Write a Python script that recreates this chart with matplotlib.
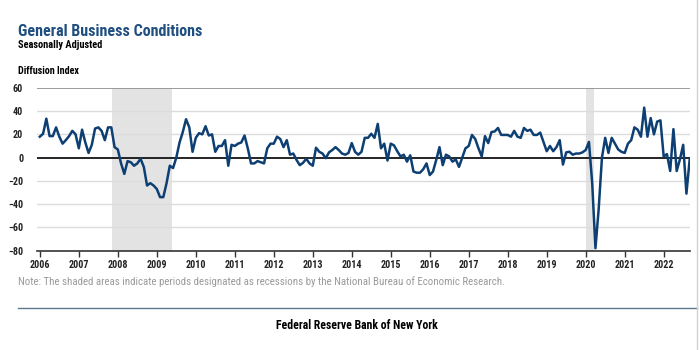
import matplotlib.pyplot as plt
from matplotlib.lines import Line2D

start_year = 2006
# monthly index, Jan 2006 .. Sep 2022
gbc = [
    18, 20.5, 33.5, 18.5, 18.5, 26, 18, 12, 15, 18.5, 23, 20,      # 2006
    8, 24, 13, 4, 11, 25, 26, 23, 15, 26, 26, 9,                   # 2007
    7, -5, -14, -3, -4, -7, -5, -1, -8, -24, -22, -24,             # 2008
    -27, -34, -34, -22, -7, -9, 0, 13, 22, 33, 26, 5,              # 2009
    17, 21, 20, 27, 19, 20, 5, 10, 10, 15, -7, 11,                 # 2010
    10, 12, 13, 19, 8, -5, -5, -3, -4, -5, 8, 12,                  # 2011
    12, 18, 16, 9, 15, 2.5, 3.5, -2, -6.5, -4.5, -1, -5,           # 2012
    -7, 8.5, 5, 3.5, -0.5, 4.5, 6.5, 9, 6.5, 3.5, 2.5, 4,          # 2013
    12.5, 5, 2.5, 5, 17, 17, 20.5, 17, 29, 8, 12, -2.5,            # 2014
    12, 10.5, 5.5, 1, 2.5, -3.5, 2, -12, -13, -13, -10, -5,        # 2015
    -15, -12, -2, 9, -6.5, 2.5, 1, -3.5, -1.5, -8, 0, 8,           # 2016
    10, 19.5, 16, 8, 1, 18.5, 12.5, 22, 22.5, 25.5, 19.5, 19.5,    # 2017
    19.5, 18, 23, 18, 17, 25.5, 23, 24, 19.5, 19.5, 21.5, 13.5,    # 2018
    5.5, 10, 5.5, 9, 15, -6, 4.5, 5, 2.5, 3.5, 3.5, 4.5,           # 2019
    6.5, 13.5, -22, -78, -44, 0, 17, 4, 17, 12, 7, 5,              # 2020
    4, 12, 15, 26, 24, 18, 43, 18, 34, 20, 31, 32,                 # 2021
    1, 3, -11.5, 24.5, -11.5, -1.5, 11, -31, -1.5,                 # 2022
]
recession_start = [2007.84, 2020.0]
recession_end = [2009.38, 2020.2]
y_ticks = [-80, -60, -40, -20, 0, 20, 40, 60]
year_ticks = list(range(2006, 2023))

months = [start_year + i / 12 for i in range(len(gbc))]

navy = '#0e3f73'
plt.rcParams['font.family'] = ['Roboto Condensed', 'Archivo Narrow', 'DejaVu Sans']

fig = plt.figure(figsize=(7, 3.5), dpi=100)
ax = fig.add_axes([0.053, 0.284, 0.933, 0.465])

for a, b in zip(recession_start, recession_end):
    ax.axvspan(a, b, color='#e3e3e3', lw=0, zorder=0)

for v in y_ticks:
    if v == 0:
        ax.axhline(v, color='black', lw=1.2, zorder=2)
    elif v == 60:
        ax.axhline(v, color='#8c8c8c', lw=1.2, zorder=1)
    elif v != -80:
        ax.axhline(v, color='#dcdcdc', lw=1.0, zorder=1)

ax.plot(months, gbc, color=navy, lw=1.8, zorder=3)

ax.set_xlim(2005.93, 2022.68)
ax.set_ylim(-80, 60)
ax.set_yticks(y_ticks)
ax.set_xticks(year_ticks)
ax.set_xticklabels([str(y) for y in year_ticks])
for s in ['top', 'right', 'left']:
    ax.spines[s].set_visible(False)
ax.spines['bottom'].set_color('#333333')
ax.spines['bottom'].set_linewidth(1.2)
ax.tick_params(axis='y', length=0, pad=10, labelsize=7.2, labelcolor='#222222')
ax.tick_params(axis='x', length=4, width=1, color='#333333', pad=3,
               labelsize=7.2, labelcolor='#222222')
for lab in ax.get_xticklabels() + ax.get_yticklabels():
    lab.set_fontweight('bold')

fig.text(0.026, 0.91, 'General Business Conditions', color='#1f4e80',
         fontsize=11.5, fontweight='bold', va='center')
fig.text(0.026, 0.872, 'Seasonally Adjusted', color='black',
         fontsize=7.5, fontweight='bold', va='center')
fig.text(0.026, 0.797, 'Diffusion Index', color='black',
         fontsize=7.2, fontweight='bold', va='center')
fig.text(0.026, 0.197, 'Note: The shaded areas indicate periods designated as recessions '
         'by the National Bureau of Economic Research.', color='#9a9a9a',
         fontsize=7.8, va='center')
fig.add_artist(Line2D([0.026, 0.995], [0.12, 0.12], color='#5d7891', lw=1.0))
fig.text(0.51, 0.07, 'Federal Reserve Bank of New York', color='black',
         fontsize=8.5, fontweight='bold', ha='center', va='center')
fig.add_artist(Line2D([0.996, 0.996], [0.0, 1.0], color='#d0d0d0', lw=1.0))

fig.savefig('out.png', dpi=100)
